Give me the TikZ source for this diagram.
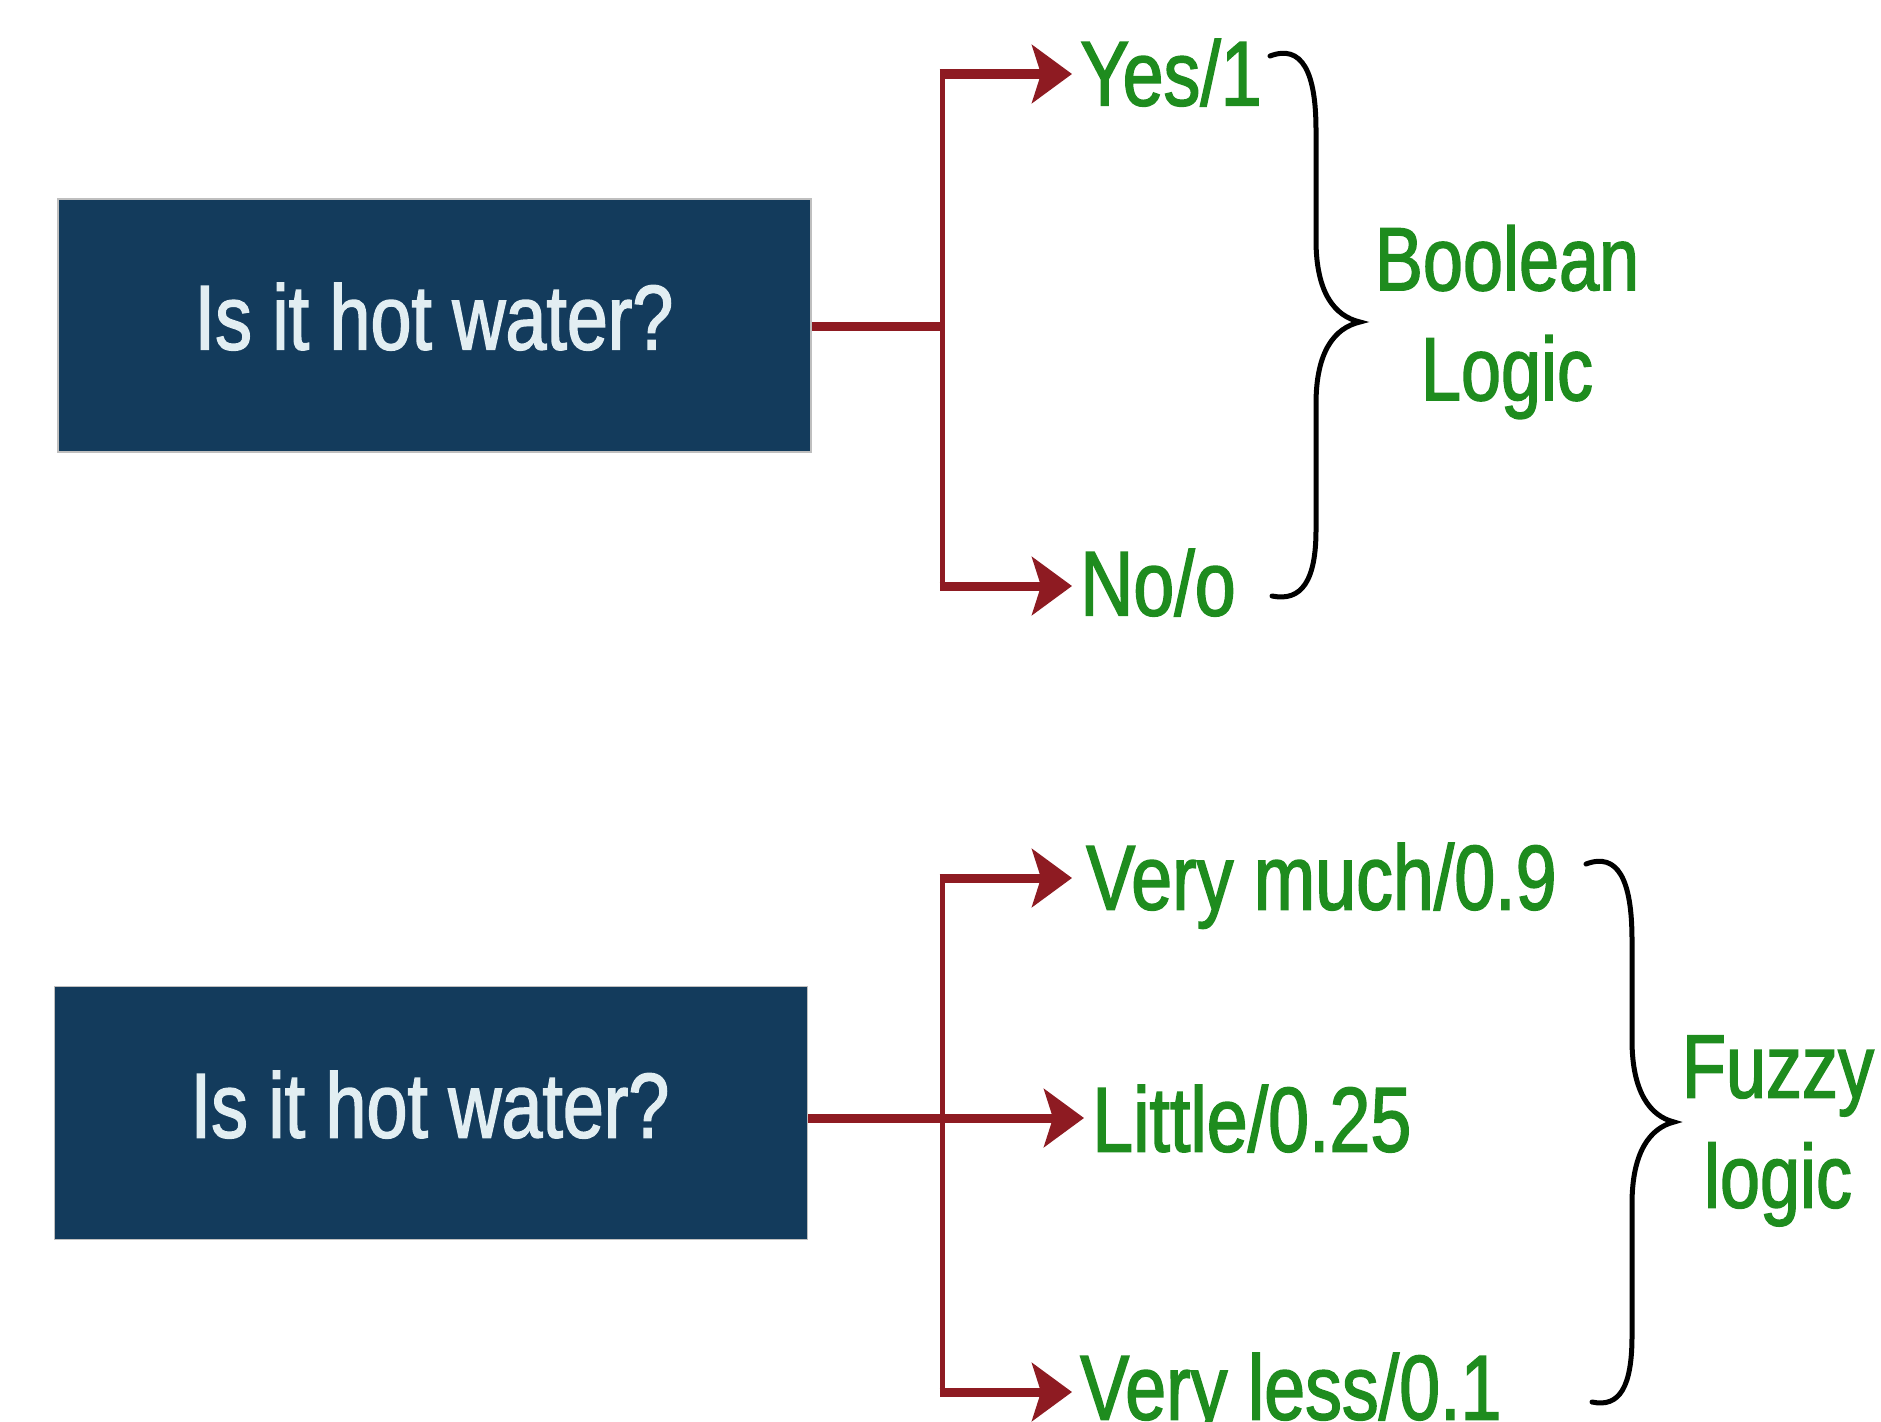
\documentclass[tikz,border=0pt]{standalone}
\usepackage{fontspec}
\setmainfont{Liberation Sans}
\newfontfamily\condfont[FakeStretch=0.8, FakeBold=1.6]{Liberation Sans}
\usetikzlibrary{arrows.meta}
\definecolor{boxblue}{HTML}{133B5C}
\definecolor{boxtext}{HTML}{E2EEF2}
\definecolor{arrred}{HTML}{8E1B22}
\definecolor{lblgreen}{HTML}{1E8C1E}
\tikzset{
  qbox/.style={rectangle, fill=boxblue, draw=gray!50, line width=1.5pt,
    minimum width=753pt, minimum height=253pt, inner sep=0pt},
  qtext/.style={text=boxtext, font=\condfont\fontsize{92}{100}\selectfont,
    inner sep=0pt, text height=67pt, text depth=0pt},
  lbl/.style={anchor=west, inner xsep=8pt, inner ysep=0pt, text=lblgreen,
    font=\condfont\fontsize{92}{100}\selectfont, text height=67pt, text depth=0pt},
  grp/.style={text=lblgreen, align=center,
    font=\condfont\fontsize{90}{110}\selectfont},
  vline/.style={draw=arrred, line width=5pt},
  hline/.style={draw=arrred, line width=9pt},
  harrow/.style={draw=arrred, line width=9pt,
    -{Stealth[length=40pt, width=58pt, inset=9pt, fill=arrred]}},
  bracepath/.style={draw=black, line width=5pt, line cap=round}
}
\begin{document}
\begin{tikzpicture}[x=1pt, y=-1pt]
\useasboundingbox (0,0) rectangle (1881,1421);

% ---------- Boolean logic ----------
\node[qbox] (q1) at (434.5,325.5) {};
\node[qtext] (q1t) at (434,316) {Is it hot water?};
\coordinate (j1) at (942,326);
\coordinate (t1) at (942,74);
\coordinate (b1) at (942,586);
\node[lbl] (yes) at (1072,72) {Yes/1};
\node[lbl] (no) at (1072,582) {No/o};
\draw[hline] (q1.east |- j1) -- (j1);
\draw[vline] (t1) -- (b1);
\draw[harrow] ([xshift=-2.5pt]t1) -- (t1 -| yes.west);
\draw[harrow] ([xshift=-2.5pt]b1) -- (b1 -| no.west);
\draw[bracepath] (1270,56) .. controls (1302,44) and (1316,72) .. (1316,130)
  -- (1316,240) .. controls (1316,292) and (1334,316) .. (1360,322)
  .. controls (1334,328) and (1316,352) .. (1316,404)
  -- (1316,530) .. controls (1316,580) and (1302,602) .. (1272,596);
\node[grp] (bool) at (1507,322) {Boolean\\Logic};

% ---------- Fuzzy logic ----------
\node[qbox] (q2) at (431,1113) {};
\node[qtext] (q2t) at (430,1104) {Is it hot water?};
\coordinate (j2) at (942,1118);
\coordinate (t2) at (942,878);
\coordinate (b2) at (942,1392);
\node[lbl] (vm) at (1078,876) {Very much/0.9};
\node[lbl] (lt) at (1084,1118) {Little/0.25};
\node[lbl] (vl) at (1072,1386) {Very less/0.1};
\draw[vline] (t2) -- (b2);
\draw[harrow] (q2.east |- j2) -- (j2 -| lt.west);
\draw[harrow] ([xshift=-2.5pt]t2) -- (t2 -| 1072,0);
\draw[harrow] ([xshift=-2.5pt]b2) -- (b2 -| vl.west);
\draw[bracepath] (1586,864) .. controls (1618,852) and (1632,880) .. (1632,940)
  -- (1632,1040) .. controls (1632,1092) and (1650,1116) .. (1674,1122)
  .. controls (1650,1128) and (1632,1152) .. (1632,1204)
  -- (1632,1336) .. controls (1632,1386) and (1620,1408) .. (1592,1402);
\node[grp] (fuzzy) at (1778,1131) {Fuzzy\\logic};
\end{tikzpicture}
\end{document}
